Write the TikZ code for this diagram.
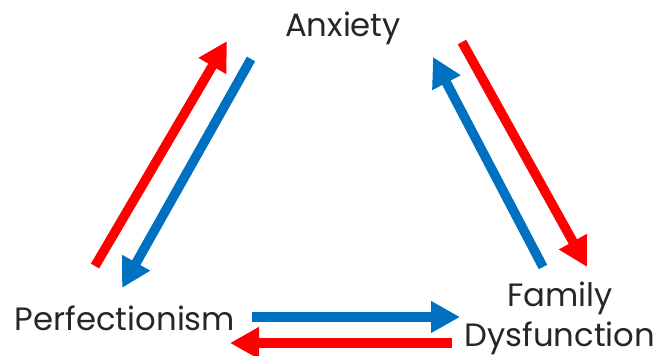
\documentclass[tikz,border=0pt]{standalone}
\usepackage{fontspec}
\setmainfont{Poppins}
\usepackage{tikz}
\usetikzlibrary{arrows.meta,positioning}
\definecolor{offblue}{RGB}{0,112,192}
\definecolor{offred}{RGB}{255,0,0}
\tikzset{
  label/.style={font=\fontsize{32.3}{40}\selectfont, text=black!85, inner sep=0pt, align=center},
  fat/.style={line width=9.5pt, -{Triangle[length=29pt,width=30pt]}},
  redarr/.style={fat, draw=offred, fill=offred},
  bluearr/.style={fat, draw=offblue, fill=offblue}
}

\begin{document}
\begin{tikzpicture}[x=1pt,y=-1pt]
  \useasboundingbox (0,0) rectangle (659,356);
  % the three labels
  \node[label] (anx) at (343,28) {Anxiety};
  \node[label] (perf) at (125,318) {Perfectionism};
  \node[label] (fam) at (560,318) {Family\\Dysfunction};
  % arrow ends
  \coordinate (pa1) at (95,266);  \coordinate (ap1) at (227,41);
  \coordinate (ap2) at (251,59);  \coordinate (pa2) at (122,288);
  \coordinate (fa1) at (543,267); \coordinate (af1) at (433,57);
  \coordinate (af2) at (462,42);  \coordinate (fa2) at (587,267);
  \coordinate (pf1) at (252,317); \coordinate (fp1) at (460,317);
  \coordinate (fp2) at (452,343); \coordinate (pf2) at (230,343);
  % connectors
  \draw[redarr] (pa1) -- (ap1);
  \draw[bluearr] (ap2) -- (pa2);
  \draw[bluearr] (fa1) -- (af1);
  \draw[redarr] (af2) -- (fa2);
  \draw[bluearr] (pf1) -- (fp1);
  \draw[redarr] (fp2) -- (pf2);
\end{tikzpicture}
\end{document}
